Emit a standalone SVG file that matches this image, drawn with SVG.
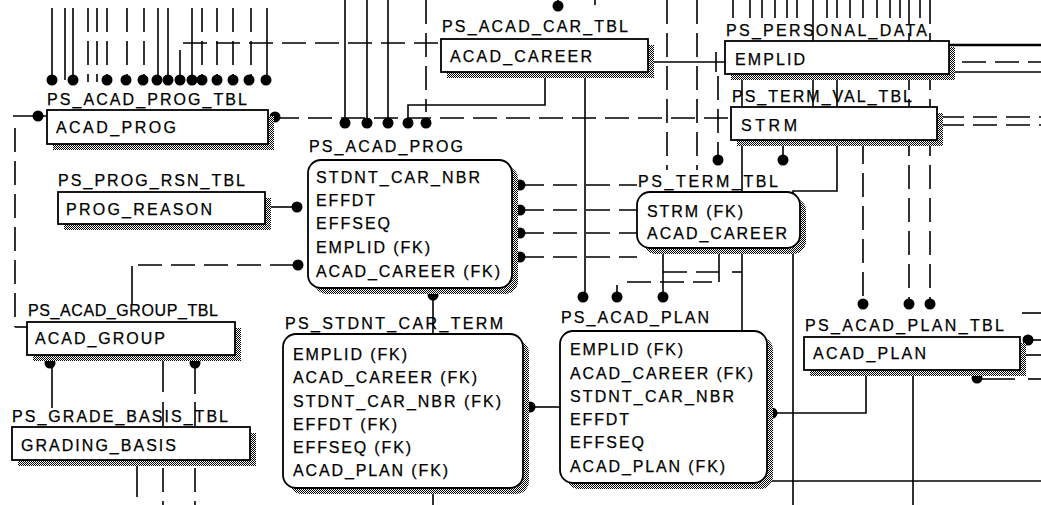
<svg xmlns="http://www.w3.org/2000/svg" width="1041" height="505" viewBox="0 0 1041 505">
<style>
.s{stroke:#000;stroke-width:1.6;fill:none}
.d{stroke:#000;stroke-width:1.6;fill:none;stroke-dasharray:24 9}
.box{fill:#fff;stroke:#000;stroke-width:1.8}
.sh{fill:url(#dith)}
text{font-family:"Liberation Sans",Arial,sans-serif;font-size:16px;fill:#000;stroke:#000;stroke-width:0.25}
.dot{fill:#000}
</style>
<defs>
<pattern id="dith" width="2" height="2" patternUnits="userSpaceOnUse">
<rect width="2" height="2" fill="#fff"/>
<rect width="1" height="1" fill="#000"/>
<rect x="1" y="1" width="1" height="1" fill="#000"/>
</pattern>
</defs>
<rect width="1041" height="505" fill="#fff"/>
<g id="connectors">
<line class="s" x1="52" y1="8" x2="52" y2="80"/>
<line class="s" x1="65" y1="8" x2="65" y2="80"/>
<line class="s" x1="73" y1="8" x2="73" y2="80"/>
<line class="d" x1="88" y1="8" x2="88" y2="82"/>
<line class="d" x1="97" y1="8" x2="97" y2="82"/>
<line class="d" x1="107" y1="8" x2="107" y2="80"/>
<line class="d" x1="127" y1="8" x2="127" y2="80"/>
<line class="d" x1="144" y1="8" x2="144" y2="80"/>
<line class="s" x1="158" y1="8" x2="158" y2="80"/>
<line class="s" x1="168" y1="8" x2="168" y2="80"/>
<line class="s" x1="180" y1="50" x2="180" y2="80"/>
<line class="s" x1="192" y1="8" x2="192" y2="80"/>
<line class="d" x1="202" y1="8" x2="202" y2="80"/>
<line class="d" x1="217" y1="8" x2="217" y2="80"/>
<line class="d" x1="233" y1="8" x2="233" y2="80"/>
<line class="d" x1="251" y1="8" x2="251" y2="80"/>
<line class="s" x1="267" y1="8" x2="267" y2="80"/>
<line class="d" x1="183" y1="43" x2="441" y2="43"/>
<line class="s" x1="13" y1="116" x2="47" y2="116"/>
<line class="d" x1="15" y1="128" x2="15" y2="327"/>
<line class="s" x1="15" y1="327" x2="27" y2="327"/>
<line class="d" x1="275" y1="118" x2="731" y2="118"/>
<line class="s" x1="345" y1="0" x2="345" y2="123"/>
<line class="s" x1="367" y1="0" x2="367" y2="123"/>
<line class="s" x1="388" y1="0" x2="388" y2="123"/>
<path class="s" d="M408,123 V105 H545 V72"/>
<line class="d" x1="426" y1="0" x2="426" y2="112"/>
<line class="s" x1="585" y1="72" x2="585" y2="297"/>
<line class="s" x1="648" y1="62" x2="725" y2="62"/>
<line class="s" x1="716" y1="52" x2="716" y2="72"/>
<line class="s" x1="558" y1="0" x2="558" y2="8"/>
<line class="s" x1="595" y1="0" x2="595" y2="5"/>
<line class="d" x1="667" y1="0" x2="667" y2="170"/>
<line class="d" x1="697" y1="0" x2="697" y2="170"/>
<line class="s" x1="733" y1="0" x2="733" y2="18"/>
<line class="s" x1="750" y1="0" x2="750" y2="18"/>
<line class="s" x1="762" y1="0" x2="762" y2="18"/>
<line class="s" x1="775" y1="0" x2="775" y2="18"/>
<line class="s" x1="787" y1="0" x2="787" y2="18"/>
<line class="s" x1="797" y1="0" x2="797" y2="18"/>
<line class="s" x1="813" y1="0" x2="813" y2="41"/>
<line class="s" x1="827" y1="0" x2="827" y2="18"/>
<line class="s" x1="837" y1="0" x2="837" y2="18"/>
<line class="s" x1="850" y1="0" x2="850" y2="18"/>
<line class="s" x1="863" y1="0" x2="863" y2="18"/>
<line class="s" x1="877" y1="0" x2="877" y2="18"/>
<line class="s" x1="890" y1="0" x2="890" y2="18"/>
<line class="s" x1="900" y1="0" x2="900" y2="18"/>
<line class="s" x1="920" y1="0" x2="920" y2="18"/>
<line stroke="#000" stroke-width="2.4" x1="949" y1="45" x2="1041" y2="45"/>
<line class="d" x1="962" y1="62" x2="1041" y2="62"/>
<line class="s" x1="953" y1="72" x2="1041" y2="72"/>
<line class="d" x1="940" y1="117" x2="1041" y2="117"/>
<line class="d" x1="940" y1="125" x2="1041" y2="125"/>
<line class="s" x1="742" y1="74" x2="742" y2="331"/>
<line class="s" x1="813" y1="74" x2="813" y2="107"/>
<path class="s" d="M837,74 V191 H793 V505"/>
<line class="d" x1="909" y1="0" x2="909" y2="304"/>
<line class="d" x1="930" y1="0" x2="930" y2="304"/>
<line class="d" x1="863" y1="140" x2="863" y2="304"/>
<line class="d" x1="718" y1="76" x2="718" y2="160"/>
<line class="s" x1="783" y1="140" x2="783" y2="160"/>
<line class="s" x1="265" y1="207" x2="297" y2="207"/>
<line class="s" x1="132" y1="266" x2="132" y2="304"/>
<line class="d" x1="138" y1="265" x2="298" y2="265"/>
<line class="d" x1="520" y1="185" x2="637" y2="185"/>
<line class="d" x1="520" y1="210" x2="637" y2="210"/>
<line class="d" x1="520" y1="233" x2="637" y2="233"/>
<line class="d" x1="520" y1="257" x2="637" y2="257"/>
<line class="s" x1="433" y1="295" x2="433" y2="334"/>
<line class="s" x1="433" y1="488" x2="433" y2="505"/>
<line class="s" x1="663" y1="248" x2="663" y2="297"/>
<line class="d" x1="663" y1="272" x2="719" y2="272"/>
<line class="s" x1="719" y1="248" x2="719" y2="282"/>
<line class="d" x1="627" y1="282" x2="712" y2="282"/>
<line class="s" x1="617" y1="285" x2="617" y2="297"/>
<line class="s" x1="732" y1="272" x2="742" y2="272"/>
<line class="s" x1="530" y1="407" x2="560" y2="407"/>
<path class="s" d="M866,370 V413 H772"/>
<line class="s" x1="913" y1="370" x2="913" y2="505"/>
<line class="s" x1="767" y1="481" x2="1041" y2="481"/>
<line class="s" x1="1022" y1="313" x2="1041" y2="313"/>
<line class="s" x1="1026" y1="340" x2="1041" y2="340"/>
<line class="s" x1="1024" y1="355" x2="1041" y2="355"/>
<line class="s" x1="977" y1="379" x2="1015" y2="379"/>
<line class="s" x1="1028" y1="379" x2="1041" y2="379"/>
<line class="s" x1="52" y1="363" x2="52" y2="408"/>
<line class="s" x1="163" y1="355" x2="163" y2="392"/>
<line class="d" x1="163" y1="402" x2="163" y2="505"/>
<line class="s" x1="195" y1="363" x2="195" y2="394"/>
<line class="d" x1="195" y1="402" x2="195" y2="505"/>
<line class="s" x1="137" y1="460" x2="137" y2="497"/>
<g class="dot">
<circle cx="52" cy="80" r="5.5"/><circle cx="73" cy="80" r="5.5"/><circle cx="107" cy="80" r="5.5"/>
<circle cx="126" cy="80" r="5.5"/><circle cx="143" cy="80" r="5.5"/><circle cx="157" cy="80" r="5.5"/>
<circle cx="168" cy="80" r="5.5"/><circle cx="180" cy="80" r="5.5"/><circle cx="192" cy="80" r="5.5"/>
<circle cx="202" cy="80" r="5.5"/><circle cx="217" cy="80" r="5.5"/><circle cx="233" cy="80" r="5.5"/>
<circle cx="249" cy="80" r="5.5"/><circle cx="266" cy="80" r="5.5"/>
<circle cx="38" cy="116" r="5.5"/><circle cx="275" cy="117" r="5.5"/>
<circle cx="345" cy="123" r="5.5"/><circle cx="367" cy="123" r="5.5"/><circle cx="388" cy="123" r="5.5"/>
<circle cx="408" cy="123" r="5.5"/><circle cx="426" cy="123" r="5.5"/>
<circle cx="558" cy="6" r="5.5"/>
<circle cx="297" cy="207" r="5.5"/><circle cx="298" cy="265" r="5.5"/>
<circle cx="520" cy="185" r="5.5"/><circle cx="520" cy="210" r="5.5"/><circle cx="520" cy="233" r="5.5"/><circle cx="520" cy="257" r="5.5"/>
<circle cx="433" cy="295" r="5.5"/>
<circle cx="718" cy="160" r="5.5"/><circle cx="783" cy="160" r="5.5"/>
<circle cx="583" cy="297" r="5.5"/><circle cx="617" cy="297" r="5.5"/><circle cx="663" cy="297" r="5.5"/>
<circle cx="863" cy="304" r="5.5"/><circle cx="909" cy="304" r="5.5"/><circle cx="930" cy="304" r="5.5"/>
<circle cx="530" cy="407" r="5.5"/><circle cx="772" cy="413" r="5.5"/>
<circle cx="50" cy="363" r="5.5"/><circle cx="195" cy="363" r="5.5"/>
<circle cx="1028" cy="340" r="5.5"/><circle cx="977" cy="378" r="5.5"/>
</g>
</g>
<g id="PS_ACAD_PROG_TBL">
<rect class="sh" x="53" y="116" width="221" height="34"/>
<rect class="box" x="47" y="110" width="221" height="34"/>
<text x="47" y="105" textLength="200" lengthAdjust="spacing">PS_ACAD_PROG_TBL</text>
<text x="56" y="133" textLength="120" lengthAdjust="spacing">ACAD_PROG</text>
</g>
<g id="PS_ACAD_CAR_TBL">
<rect class="sh" x="447" y="45" width="207" height="33"/>
<rect class="box" x="441" y="39" width="207" height="33"/>
<text x="442" y="32" textLength="186" lengthAdjust="spacing">PS_ACAD_CAR_TBL</text>
<text x="450" y="62" textLength="142" lengthAdjust="spacing">ACAD_CAREER</text>
</g>
<g id="PS_PERSONAL_DATA">
<rect class="sh" x="731" y="47" width="224" height="33"/>
<rect class="box" x="725" y="41" width="224" height="33"/>
<text x="726" y="36" textLength="201" lengthAdjust="spacing">PS_PERSONAL_DATA</text>
<text x="735" y="65" textLength="70" lengthAdjust="spacing">EMPLID</text>
</g>
<g id="PS_TERM_VAL_TBL">
<rect class="sh" x="737" y="113" width="206" height="33"/>
<rect class="box" x="731" y="107" width="206" height="33"/>
<text x="732" y="102" textLength="180" lengthAdjust="spacing">PS_TERM_VAL_TBL</text>
<text x="741" y="131" textLength="56" lengthAdjust="spacing">STRM</text>
</g>
<g id="PS_PROG_RSN_TBL">
<rect class="sh" x="64" y="198" width="207" height="32"/>
<rect class="box" x="58" y="192" width="207" height="32"/>
<text x="58" y="186" textLength="187" lengthAdjust="spacing">PS_PROG_RSN_TBL</text>
<text x="66" y="215" textLength="146" lengthAdjust="spacing">PROG_REASON</text>
</g>
<g id="PS_ACAD_PROG">
<rect class="sh" x="314" y="166" width="204" height="128" rx="13"/>
<rect class="box" x="308" y="160" width="204" height="128" rx="13"/>
<text x="309" y="152" textLength="154" lengthAdjust="spacing">PS_ACAD_PROG</text>
<text x="316" y="183" textLength="164" lengthAdjust="spacing">STDNT_CAR_NBR</text>
<text x="316" y="206" textLength="59" lengthAdjust="spacing">EFFDT</text>
<text x="316" y="229" textLength="74" lengthAdjust="spacing">EFFSEQ</text>
<text x="316" y="253" textLength="114" lengthAdjust="spacing">EMPLID (FK)</text>
<text x="316" y="277" textLength="184" lengthAdjust="spacing">ACAD_CAREER (FK)</text>
</g>
<g id="PS_ACAD_GROUP_TBL">
<rect class="sh" x="33" y="328" width="208" height="33"/>
<rect class="box" x="27" y="322" width="208" height="33"/>
<text x="28" y="316" textLength="190" lengthAdjust="spacing">PS_ACAD_GROUP_TBL</text>
<text x="35" y="344" textLength="130" lengthAdjust="spacing">ACAD_GROUP</text>
</g>
<g id="PS_GRADE_BASIS_TBL">
<rect class="sh" x="18" y="433" width="238" height="33"/>
<rect class="box" x="12" y="427" width="238" height="33"/>
<text x="12" y="422" textLength="216" lengthAdjust="spacing">PS_GRADE_BASIS_TBL</text>
<text x="21" y="451" textLength="155" lengthAdjust="spacing">GRADING_BASIS</text>
</g>
<g id="PS_STDNT_CAR_TERM">
<rect class="sh" x="289" y="340" width="240" height="154" rx="13"/>
<rect class="box" x="283" y="334" width="240" height="154" rx="13"/>
<text x="285" y="329" textLength="218" lengthAdjust="spacing">PS_STDNT_CAR_TERM</text>
<text x="293" y="360" textLength="114" lengthAdjust="spacing">EMPLID (FK)</text>
<text x="293" y="383" textLength="184" lengthAdjust="spacing">ACAD_CAREER (FK)</text>
<text x="293" y="407" textLength="208" lengthAdjust="spacing">STDNT_CAR_NBR (FK)</text>
<text x="293" y="430" textLength="104" lengthAdjust="spacing">EFFDT (FK)</text>
<text x="293" y="453" textLength="118" lengthAdjust="spacing">EFFSEQ (FK)</text>
<text x="293" y="476" textLength="155" lengthAdjust="spacing">ACAD_PLAN (FK)</text>
</g>
<g id="PS_TERM_TBL">
<rect class="sh" x="643" y="198" width="163" height="56" rx="13"/>
<rect class="box" x="637" y="192" width="163" height="56" rx="13"/>
<text x="638" y="187" textLength="140" lengthAdjust="spacing">PS_TERM_TBL</text>
<text x="647" y="217" textLength="96" lengthAdjust="spacing">STRM (FK)</text>
<text x="647" y="239" textLength="140" lengthAdjust="spacing">ACAD_CAREER</text>
</g>
<g id="PS_ACAD_PLAN">
<rect class="sh" x="566" y="337" width="207" height="152" rx="13"/>
<rect class="box" x="560" y="331" width="207" height="152" rx="13"/>
<text x="561" y="323" textLength="148" lengthAdjust="spacing">PS_ACAD_PLAN</text>
<text x="570" y="355" textLength="113" lengthAdjust="spacing">EMPLID (FK)</text>
<text x="570" y="379" textLength="183" lengthAdjust="spacing">ACAD_CAREER (FK)</text>
<text x="570" y="402" textLength="164" lengthAdjust="spacing">STDNT_CAR_NBR</text>
<text x="570" y="425" textLength="59" lengthAdjust="spacing">EFFDT</text>
<text x="570" y="448" textLength="74" lengthAdjust="spacing">EFFSEQ</text>
<text x="570" y="472" textLength="155" lengthAdjust="spacing">ACAD_PLAN (FK)</text>
</g>
<g id="PS_ACAD_PLAN_TBL">
<rect class="sh" x="810" y="343" width="216" height="33"/>
<rect class="box" x="804" y="337" width="216" height="33"/>
<text x="805" y="331" textLength="199" lengthAdjust="spacing">PS_ACAD_PLAN_TBL</text>
<text x="813" y="359" textLength="113" lengthAdjust="spacing">ACAD_PLAN</text>
</g>
</svg>
